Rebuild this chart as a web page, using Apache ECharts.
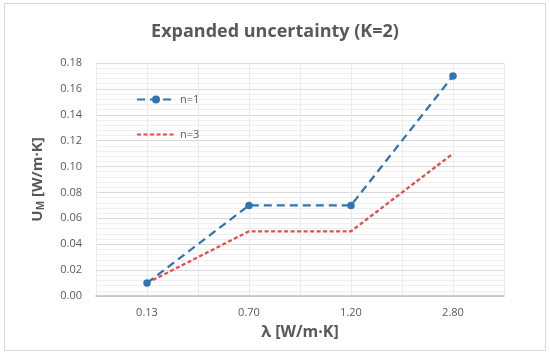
<!DOCTYPE html>
<html>
<head>
<meta charset="utf-8">
<script src="https://cdn.jsdelivr.net/npm/echarts@6/dist/echarts.min.js"></script>
<style>
html,body{margin:0;padding:0;background:#fff;}
#frame{position:absolute;left:4px;top:3px;width:542px;height:348px;border:1px solid #d9d9d9;box-sizing:border-box;}
#c{position:absolute;left:0;top:0;width:550px;height:356px;}
</style>
</head>
<body>
<div id="frame"></div>
<div id="c"></div>
<script>
const categories = ['0.13', '0.70', '1.20', '2.80'];
const seriesN1 = [0.01, 0.07, 0.07, 0.17];
const seriesN3 = [0.01, 0.05, 0.05, 0.11];
const yTicks = { min: 0, max: 0.18, interval: 0.02 };

const txt = '#595959';
const font = '"Open Sans", "Noto Sans", sans-serif';
const chart = echarts.init(document.getElementById('c'));
chart.setOption({
  animation: false,
  title: {
    text: 'Expanded uncertainty (K=2)',
    left: 'center', top: 18,
    textStyle: { color: txt, fontSize: 18, fontWeight: 'bold', fontFamily: font }
  },
  legend: {
    orient: 'vertical', left: 131, top: 89, itemGap: 24,
    itemWidth: 38, itemHeight: 10,
    textStyle: { color: txt, fontSize: 11, fontFamily: font },
    data: ['n=1', { name: 'n=3', itemStyle: { opacity: 0 } }]
  },
  grid: { left: 96, right: 46, top: 63, bottom: 60 },
  xAxis: [{
    type: 'category', data: categories,
    axisLine: { lineStyle: { color: '#bfbfbf', width: 1.5 } },
    axisTick: { show: false },
    axisLabel: { color: txt, fontSize: 11, fontFamily: font, margin: 11 },
    splitLine: { show: false },
    name: 'λ [W/m·K]', nameLocation: 'middle', nameGap: 28,
    nameTextStyle: { color: txt, fontSize: 16, fontWeight: 'bold', fontFamily: font }
  }, {
    type: 'value', min: 0, max: 8, interval: 1, position: 'bottom',
    axisLine: { show: false }, axisTick: { show: false }, axisLabel: { show: false },
    splitLine: { show: true, lineStyle: { color: '#ebebeb', width: 1 } }
  }],
  yAxis: {
    type: 'value', min: yTicks.min, max: yTicks.max, interval: yTicks.interval,
    axisLine: { show: false }, axisTick: { show: false },
    axisLabel: { color: txt, fontSize: 11, fontFamily: font, margin: 14,
      formatter: v => v.toFixed(2) },
    splitLine: { lineStyle: { color: '#d9d9d9', width: 1 } },
    minorTick: { show: false, splitNumber: 5 },
    minorSplitLine: { show: true, lineStyle: { color: '#f0f0f0', width: 1 } },
    name: '{a|U}{b|M}{a| [W/m·K]}', nameLocation: 'middle', nameGap: 50, nameRotate: 90,
    nameTextStyle: { rich: {
      a: { color: txt, fontSize: 15, fontWeight: 'bold', fontFamily: font },
      b: { color: txt, fontSize: 10, fontWeight: 'bold', fontFamily: font, padding: [6, 0, 0, 0] }
    } }
  },
  series: [{
    name: 'n=1', type: 'line', data: seriesN1,
    symbol: 'circle', symbolSize: 7.5,
    itemStyle: { color: '#2E75B6' },
    lineStyle: { color: '#2E75B6', width: 2.25, type: [8, 5] }
  }, {
    name: 'n=3', type: 'line', data: seriesN3,
    symbol: 'none',
    itemStyle: { color: '#E84A4A' },
    lineStyle: { color: '#E84A4A', width: 2.25, type: [4, 2.5] }
  }]
});
</script>
</body>
</html>
